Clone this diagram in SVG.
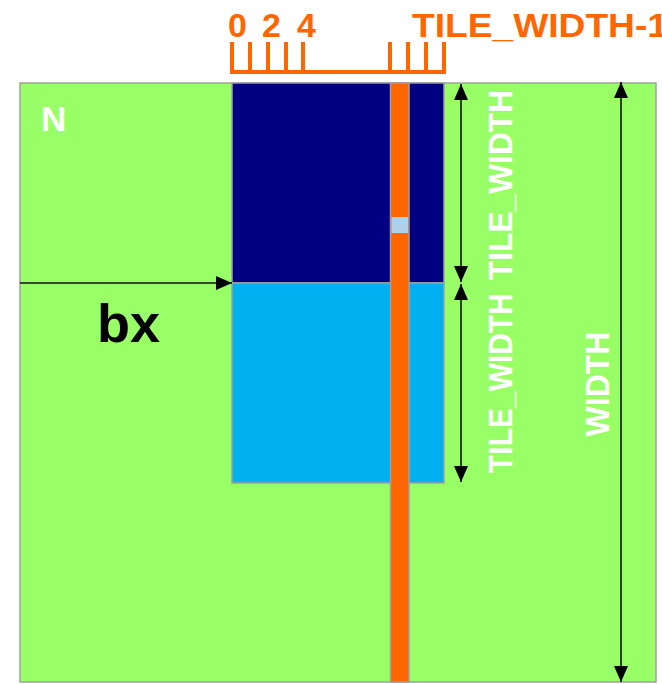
<svg xmlns="http://www.w3.org/2000/svg" width="662" height="684" viewBox="0 0 662 684">
<defs>
<style>
.lbl{font-family:"Liberation Sans",Arial,sans-serif;font-weight:bold}
.w{fill:#ffffff}
.o{fill:#ff6600}
.ar{stroke:#111;stroke-width:1.6;fill:none}
.tick{stroke:#ff6600;stroke-width:4;fill:none}
</style>
<marker id="ah" viewBox="0 0 16 14" refX="16" refY="7" markerWidth="16" markerHeight="14" markerUnits="userSpaceOnUse" orient="auto-start-reverse">
<path d="M0,0 L16,7 L0,14 Z" fill="#000"/>
</marker>
</defs>
<rect width="662" height="684" fill="#ffffff"/>
<g id="matrix">
<rect x="20" y="83" width="636" height="599" fill="#99ff66" stroke="#a0a0a0" stroke-width="1.5"/>
<text class="lbl w" x="41" y="131" font-size="35">N</text>
</g>
<g id="tile">
<rect x="232" y="83" width="212" height="200" fill="#000080" stroke="#a0a0a0" stroke-width="1.5"/>
<rect x="232" y="283" width="212" height="200" fill="#00b0f0" stroke="#a0a0a0" stroke-width="1.5"/>
</g>
<g id="strip">
<rect x="390.5" y="83" width="18.5" height="599" fill="#ff6600" stroke="#a0a0a0" stroke-width="1.5"/>
<rect x="391.5" y="217" width="16.5" height="16" fill="#b0d0e8"/>
</g>
<g id="scale">
<path class="tick" d="M232,42 V72 M250,42 V72 M268,42 V72 M286,42 V72 M303,42 V72 M390,42 V72 M408,42 V72 M426,42 V72 M444,42 V72 M230,72 H446"/>
<text class="lbl o" x="228" y="37" font-size="34">0</text>
<text class="lbl o" x="262" y="37" font-size="34">2</text>
<text class="lbl o" x="297" y="37" font-size="34">4</text>
<text class="lbl o" x="412" y="37" font-size="34" textLength="256" lengthAdjust="spacingAndGlyphs">TILE_WIDTH-1</text>
</g>
<g id="connectors">
<line class="ar" x1="20" y1="283" x2="232" y2="283" marker-end="url(#ah)"/>
<line class="ar" x1="461" y1="84" x2="461" y2="282" marker-start="url(#ah)" marker-end="url(#ah)"/>
<line class="ar" x1="461" y1="284" x2="461" y2="482" marker-start="url(#ah)" marker-end="url(#ah)"/>
<line class="ar" x1="621" y1="82" x2="621" y2="682" marker-start="url(#ah)" marker-end="url(#ah)"/>
</g>
<g id="labels">
<text class="lbl" x="97" y="342" font-size="54" fill="#000">bx</text>
<text class="lbl w" transform="translate(512,185) rotate(-90)" text-anchor="middle" font-size="33" textLength="190" lengthAdjust="spacingAndGlyphs">TILE_WIDTH</text>
<text class="lbl w" transform="translate(512,383) rotate(-90)" text-anchor="middle" font-size="33" textLength="180" lengthAdjust="spacingAndGlyphs">TILE_WIDTH</text>
<text class="lbl w" transform="translate(609,384) rotate(-90)" text-anchor="middle" font-size="33" textLength="105" lengthAdjust="spacingAndGlyphs">WIDTH</text>
</g>
</svg>
